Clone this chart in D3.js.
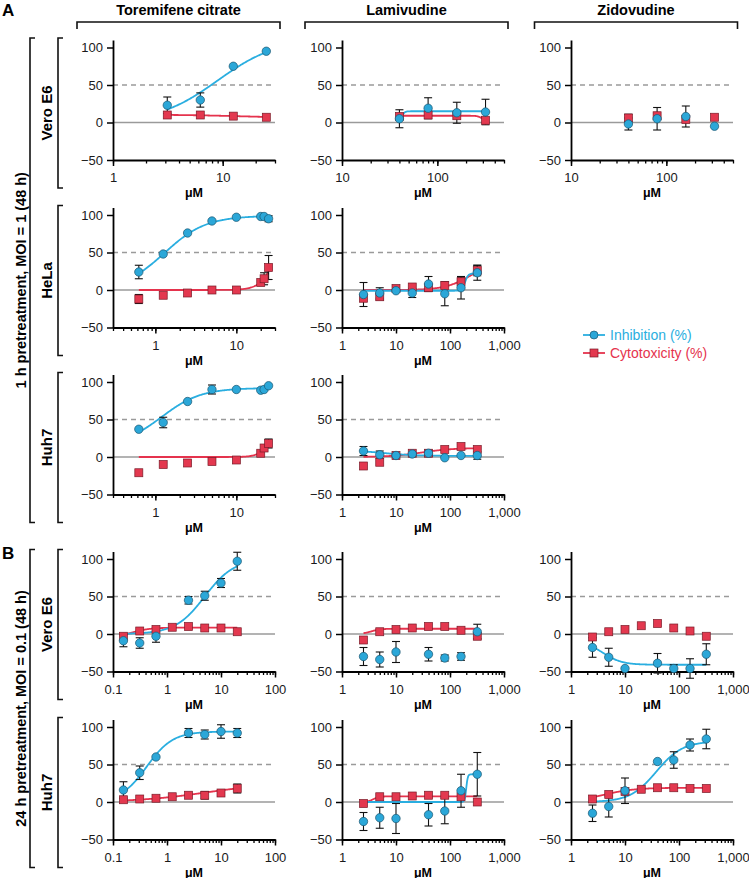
<!DOCTYPE html>
<html><head><meta charset="utf-8">
<script src="https://cdn.jsdelivr.net/npm/d3@7"></script>
<style>
body{margin:0;background:#fff;}
text{font-family:Arial,"Liberation Sans",Helvetica,sans-serif;}
</style>
</head><body><svg id="c" width="749" height="878"></svg>
<script>
// ================= DATA =================
const drugs = ["Toremifene citrate", "Lamivudine", "Zidovudine"];
const cellLines = ["Vero E6", "HeLa", "Huh7", "Vero E6", "Huh7"];
const sectionLetters = ["A", "B"];
const sectionLabels = ["1 h pretreatment, MOI = 1 (48 h)", "24 h pretreatment, MOI = 0.1 (48 h)"];
const legendLabels = ["Inhibition (%)", "Cytotoxicity (%)"];
const yTicks = [-50, 0, 50, 100];
const xUnit = "\u03bcM";

// concentrations (µM)
const concTorA1 = [3.125, 6.25, 12.5, 25];
const concNucA1 = [40, 80, 160, 320];
const concTorA = [0.625, 1.25, 2.5, 5, 10, 20, 22, 25];
const concNuc = [2.5, 5, 10, 20, 40, 80, 160, 320];
const concTorB = [0.156, 0.3125, 0.625, 1.25, 2.5, 5, 10, 20];

// --- A, Vero E6 ---
const inhA1Tor = [23, 30, 75, 95];
const inhErrA1Tor = [11, 9.5, 0, 0];
const cytA1Tor = [10, 10, 8.5, 7];
const cytErrA1Tor = [0, 0, 0, 0];
const fitInhA1Tor = [0, 112, 9, 1.6];   // [low, high, EC50, hill]
const fitCytA1Tor = [10.5, 6, 15, 1.5];

const inhA1Lam = [5, 19, 13, 14];
const inhErrA1Lam = [12, 14, 14, 17];
const cytA1Lam = [8, 10, 9, 3];
const cytErrA1Lam = [0, 0, 0, 0];
const fitInhA1Lam = [5, 15, 43, 30];
const fitCytA1Lam = [9, 3, 290, 20];

const inhA1Zid = [-2, 5, 8, -5];
const inhErrA1Zid = [8, 15, 14, 0];
const cytA1Zid = [6, 9, 4, 7];
const cytErrA1Zid = [5, 0, 0, 0];

// --- A, HeLa ---
const inhA2Tor = [24, 48, 76, 92, 97, 98, 98, 95];
const inhErrA2Tor = [9, 0, 0, 0, 0, 0, 0, 4];
const cytA2Tor = [-12, -7, -4, 0, 0, 10, 15, 30];
const cytErrA2Tor = [6, 0, 0, 0, 0, 0, 8, 16];
const fitInhA2Tor = [0, 99, 1.3, 1.7];
const fitCytA2Tor = [0, 100, 32, 4.5];

const inhA2Lam = [-6, -4, -1, -4, 8, -5, 3, 23];
const inhErrA2Lam = [16, 7, 0, 6, 10, 16, 15, 10];
const cytA2Lam = [-11, -9, 2, 4, 3, 6, 11, 26];
const cytErrA2Lam = [0, 4, 0, 0, 0, 0, 6, 7];
const fitInhA2Lam = [-1, 22, 190, 15];
const fitCytA2Lam = [0, 40, 250, 1.8];

// --- A, Huh7 ---
const inhA3Tor = [37, 46, 74, 90, 90, 89, 90, 95];
const inhErrA3Tor = [0, 7, 0, 6, 0, 0, 0, 0];
const cytA3Tor = [-21, -10, -8, -6, -4, 5, 12, 18];
const cytErrA3Tor = [0, 0, 0, 0, 0, 0, 0, 6];
const fitInhA3Tor = [15, 92, 1.2, 1.8];
const fitCytA3Tor = [0, 60, 28, 6];

const inhA3Lam = [8, 3, 2, 4, 5, -1, 2, 2];
const inhErrA3Lam = [6, 5, 0, 0, 4, 0, 0, 5];
const cytA3Lam = [-12, -7, 2, 5, 5, 10, 14, 10];
const cytErrA3Lam = [0, 0, 0, 0, 0, 0, 0, 0];
const fitInhA3Lam = [9, 1.5, 6, 1.5];
const fitCytA3Lam = [0, 12, 30, 1.5];

// --- B, Vero E6 ---
const inhB1Tor = [-9, -12, -3, null, 45, 51, 68, 97];
const inhErrB1Tor = [8, 7, 8, 0, 5, 6, 6, 12];
const cytB1Tor = [-3, 4, 6, 9, 10, 8, 8, 3];
const cytErrB1Tor = [0, 0, 0, 0, 0, 0, 0, 0];
const fitInhB1Tor = [0, 100, 5, 1.6];
const fitCytB1Tor = [-5, 8.5, 0.22, 2.5];

const inhB1Lam = [-30, -34, -24, null, -27, -32, -30, 3];
const inhErrB1Lam = [12, 10, 14, 0, 9, 4, 5, 10];
const cytB1Lam = [-8, 3, 6, 8, 10, 10, 5, -3];
const cytErrB1Lam = [0, 0, 0, 0, 0, 0, 0, 3];
const fitCytB1Lam = [0, 7, 3.5, 5];

const inhB1Zid = [-18, -31, -46, null, -39, -46, -46, -27];
const inhErrB1Zid = [13, 12, 0, 0, 13, 5, 13, 14];
const cytB1Zid = [-4, 3, 6, 11, 14, 8, 4, -3];
const cytErrB1Zid = [0, 0, 0, 0, 0, 0, 0, 0];
const fitInhB1Zid = [-10, -41, 4, 2.5];

// --- B, Huh7 ---
const inhB2Tor = [16, 39, 60, null, 92, 90, 94, 92];
const inhErrB2Tor = [11, 9, 0, 0, 6, 6, 9, 6];
const cytB2Tor = [3, 4, 5, 7, 9, 9, 12, 18];
const cytErrB2Tor = [0, 0, 0, 0, 0, 5, 0, 6];
const fitInhB2Tor = [0, 94, 0.42, 1.8];
const fitCytB2Tor = [0, 25, 5, 0.7];

const inhB2Lam = [-26, -21, -22, null, -17, -12, 15, 37];
const inhErrB2Lam = [12, 14, 20, 0, 15, 17, 22, 29];
const cytB2Lam = [-2, 7, 7, 8, 9, 9, 7, 0];
const cytErrB2Lam = [0, 0, 0, 0, 0, 0, 0, 0];
const fitInhB2Lam = [0, 37, 200, 30];
const fitCytB2Lam = [0, 7.5, 3.8, 8];

const inhB2Zid = [-15, -6, 15, null, 54, 56, 76, 84];
const inhErrB2Zid = [11, 14, 17, 0, 0, 11, 8, 13];
const cytB2Zid = [4, 10, 14, 17, 19, 19, 18, 18];
const cytErrB2Zid = [0, 0, 0, 0, 0, 0, 0, 0];
const fitInhB2Zid = [0, 81, 38, 1.8];
const fitCytB2Zid = [0, 19, 4, 1.5];

// x axis domains / major ticks per panel type
const domTorA1 = [1, 30], majTorA1 = [1, 10];
const domNucA1 = [10, 500], majNucA1 = [10, 100];
const domTorA = [0.3, 30], majTorA = [1, 10];
const domNuc = [1, 1000], majNuc = [1, 10, 100, 1000];
const domTorB = [0.1, 100], majTorB = [0.1, 1, 10, 100];

// ================= LAYOUT =================
const colX = [113, 342, 571];
const axisLen = 162;
const rowZero = [122.5, 290, 457, 634, 802];
const pxPerUnit = 0.75;

const panels = [
  {r:0,c:0,dom:domTorA1,maj:majTorA1,conc:concTorA1,inh:inhA1Tor,ie:inhErrA1Tor,cyt:cytA1Tor,ce:cytErrA1Tor,fi:fitInhA1Tor,fc:fitCytA1Tor},
  {r:0,c:1,dom:domNucA1,maj:majNucA1,conc:concNucA1,inh:inhA1Lam,ie:inhErrA1Lam,cyt:cytA1Lam,ce:cytErrA1Lam,fi:fitInhA1Lam,fc:fitCytA1Lam},
  {r:0,c:2,dom:domNucA1,maj:majNucA1,conc:concNucA1,inh:inhA1Zid,ie:inhErrA1Zid,cyt:cytA1Zid,ce:cytErrA1Zid,fi:null,fc:null},
  {r:1,c:0,dom:domTorA,maj:majTorA,conc:concTorA,inh:inhA2Tor,ie:inhErrA2Tor,cyt:cytA2Tor,ce:cytErrA2Tor,fi:fitInhA2Tor,fc:fitCytA2Tor},
  {r:1,c:1,dom:domNuc,maj:majNuc,conc:concNuc,inh:inhA2Lam,ie:inhErrA2Lam,cyt:cytA2Lam,ce:cytErrA2Lam,fi:fitInhA2Lam,fc:fitCytA2Lam},
  {r:2,c:0,dom:domTorA,maj:majTorA,conc:concTorA,inh:inhA3Tor,ie:inhErrA3Tor,cyt:cytA3Tor,ce:cytErrA3Tor,fi:fitInhA3Tor,fc:fitCytA3Tor},
  {r:2,c:1,dom:domNuc,maj:majNuc,conc:concNuc,inh:inhA3Lam,ie:inhErrA3Lam,cyt:cytA3Lam,ce:cytErrA3Lam,fi:fitInhA3Lam,fc:fitCytA3Lam},
  {r:3,c:0,dom:domTorB,maj:majTorB,conc:concTorB,inh:inhB1Tor,ie:inhErrB1Tor,cyt:cytB1Tor,ce:cytErrB1Tor,fi:fitInhB1Tor,fc:fitCytB1Tor},
  {r:3,c:1,dom:domNuc,maj:majNuc,conc:concNuc,inh:inhB1Lam,ie:inhErrB1Lam,cyt:cytB1Lam,ce:cytErrB1Lam,fi:null,fc:fitCytB1Lam},
  {r:3,c:2,dom:domNuc,maj:majNuc,conc:concNuc,inh:inhB1Zid,ie:inhErrB1Zid,cyt:cytB1Zid,ce:cytErrB1Zid,fi:fitInhB1Zid,fc:null},
  {r:4,c:0,dom:domTorB,maj:majTorB,conc:concTorB,inh:inhB2Tor,ie:inhErrB2Tor,cyt:cytB2Tor,ce:cytErrB2Tor,fi:fitInhB2Tor,fc:fitCytB2Tor},
  {r:4,c:1,dom:domNuc,maj:majNuc,conc:concNuc,inh:inhB2Lam,ie:inhErrB2Lam,cyt:cytB2Lam,ce:cytErrB2Lam,fi:fitInhB2Lam,fc:fitCytB2Lam},
  {r:4,c:2,dom:domNuc,maj:majNuc,conc:concNuc,inh:inhB2Zid,ie:inhErrB2Zid,cyt:cytB2Zid,ce:cytErrB2Zid,fi:fitInhB2Zid,fc:fitCytB2Zid}
];

const BLUE = "#2aaee0", BLUE_FILL = "#2ba7d8", BLUE_STROKE = "#1b5670";
const RED = "#e5334d", RED_FILL = "#e3384f", RED_STROKE = "#7a1b28";
const GRAY = "#9a9a9a";

const svg = d3.select("#c");

function fourPL(p, x) { return p[0] + (p[1] - p[0]) / (1 + Math.pow(p[2] / x, p[3])); }

function minorTicks(dom) {
  const out = [];
  let e0 = Math.floor(Math.log10(dom[0])), e1 = Math.ceil(Math.log10(dom[1]));
  for (let e = e0; e <= e1; e++) for (let k = 1; k <= 9; k++) {
    const v = +(k * Math.pow(10, e)).toPrecision(6);
    if (v >= dom[0] * 0.999 && v <= dom[1] * 1.001) out.push(v);
  }
  return out;
}
const fmtTick = v => v >= 1000 ? d3.format(",")(v) : String(v);

panels.forEach(p => {
  const x0 = colX[p.c], z = rowZero[p.r];
  const x = d3.scaleLog().domain(p.dom).range([x0, x0 + axisLen]);
  const y = d3.scaleLinear().domain([-50, 110]).range([z + 50 * pxPerUnit, z - 110 * pxPerUnit]);
  const g = svg.append("g");

  // reference lines
  g.append("line").attr("x1", x0).attr("x2", x0 + axisLen).attr("y1", y(0)).attr("y2", y(0))
    .attr("stroke", GRAY).attr("stroke-width", 1.6);
  g.append("line").attr("x1", x0).attr("x2", x0 + axisLen).attr("y1", y(50)).attr("y2", y(50))
    .attr("stroke", GRAY).attr("stroke-width", 1.4).attr("stroke-dasharray", "5,4");

  // axes
  const ax = g.append("g").attr("transform", `translate(0,${y(-50)})`)
    .call(d3.axisBottom(x).tickValues(minorTicks(p.dom)).tickSize(3.5).tickSizeOuter(0).tickFormat(""));
  ax.select(".domain").attr("stroke-width", 1.8);
  ax.selectAll(".tick line").attr("stroke-width", 1.3);
  const axM = g.append("g").attr("transform", `translate(0,${y(-50)})`)
    .call(d3.axisBottom(x).tickValues(p.maj).tickSize(6).tickSizeOuter(0).tickPadding(7).tickFormat(fmtTick));
  axM.select(".domain").remove();
  axM.selectAll(".tick line").attr("stroke-width", 1.5);
  axM.selectAll("text").attr("font-size", 13).attr("fill", "#1a1a1a").attr("font-family", "Arial, Liberation Sans, sans-serif");

  const ay = g.append("g").attr("transform", `translate(${x0},0)`)
    .call(d3.axisLeft(y).tickValues(yTicks).tickSize(6).tickSizeOuter(0).tickPadding(4));
  ay.select(".domain").attr("stroke-width", 1.8);
  ay.selectAll(".tick line").attr("stroke-width", 1.5);
  ay.selectAll("text").attr("font-size", 13).attr("fill", "#1a1a1a").attr("font-family", "Arial, Liberation Sans, sans-serif");

  g.append("text").attr("x", x0 + axisLen / 2).attr("y", y(-50) + 37).attr("text-anchor", "middle")
    .attr("font-size", 12.5).attr("font-weight", "bold").text(xUnit);

  // curves
  const xs = d3.range(0, 201).map(i => Math.exp(Math.log(p.conc[0]) + i / 200 * (Math.log(p.conc[p.conc.length - 1]) - Math.log(p.conc[0]))));
  const line = d3.line().x(d => x(d[0])).y(d => y(d[1]));
  if (p.fc) g.append("path").attr("d", line(xs.map(v => [v, fourPL(p.fc, v)])))
    .attr("fill", "none").attr("stroke", RED).attr("stroke-width", 1.8);
  if (p.fi) g.append("path").attr("d", line(xs.map(v => [v, fourPL(p.fi, v)])))
    .attr("fill", "none").attr("stroke", BLUE).attr("stroke-width", 1.8);

  // error bars
  const eb = (vals, errs) => p.conc.forEach((c, i) => {
    if (vals[i] == null || !errs[i]) return;
    const cx = x(c), t = y(vals[i] + errs[i]), b = y(vals[i] - errs[i]);
    g.append("line").attr("x1", cx).attr("x2", cx).attr("y1", t).attr("y2", b).attr("stroke", "#111").attr("stroke-width", 1.1);
    [t, b].forEach(yy => g.append("line").attr("x1", cx - 4).attr("x2", cx + 4).attr("y1", yy).attr("y2", yy).attr("stroke", "#111").attr("stroke-width", 1.1));
  });
  eb(p.cyt, p.ce);
  eb(p.inh, p.ie);

  // markers
  p.conc.forEach((c, i) => {
    if (p.cyt[i] == null) return;
    g.append("rect").attr("x", x(c) - 4).attr("y", y(p.cyt[i]) - 4).attr("width", 8).attr("height", 8)
      .attr("fill", RED_FILL).attr("stroke", RED_STROKE).attr("stroke-width", 0.7);
  });
  p.conc.forEach((c, i) => {
    if (p.inh[i] == null) return;
    g.append("circle").attr("cx", x(c)).attr("cy", y(p.inh[i])).attr("r", 4.2)
      .attr("fill", BLUE_FILL).attr("stroke", BLUE_STROKE).attr("stroke-width", 0.7);
  });
});

// column titles & brackets
const colCenters = [178.5, 406.5, 636];
drugs.forEach((d, i) => {
  svg.append("text").attr("x", colCenters[i]).attr("y", 15).attr("text-anchor", "middle")
    .attr("font-size", 14.5).attr("font-weight", "bold").text(d);
  const l = colCenters[i] - 101.5, r = colCenters[i] + 101.5;
  svg.append("path").attr("d", `M${l},29V22H${r}V29`).attr("fill", "none").attr("stroke", "#111").attr("stroke-width", 1.6);
});

// row brackets & labels
cellLines.forEach((name, r) => {
  const t = rowZero[r] - 84.5, b = rowZero[r] + 65.5;
  svg.append("path").attr("d", `M63,${t}H58V${b}H63`).attr("fill", "none").attr("stroke", "#111").attr("stroke-width", 1.6);
  svg.append("text").attr("transform", `translate(52,${(t + b) / 2}) rotate(-90)`).attr("text-anchor", "middle")
    .attr("font-size", 15).attr("font-weight", "bold").text(name);
});
const secSpan = [[rowZero[0] - 84.5, rowZero[2] + 65.5], [rowZero[3] - 84.5, rowZero[4] + 65.5]];
sectionLabels.forEach((s, i) => {
  const [t, b] = secSpan[i];
  svg.append("path").attr("d", `M35,${t}H30V${b}H35`).attr("fill", "none").attr("stroke", "#111").attr("stroke-width", 1.6);
  svg.append("text").attr("transform", `translate(26,${(t + b) / 2}) rotate(-90)`).attr("text-anchor", "middle")
    .attr("font-size", 14.5).attr("font-weight", "bold").text(s);
  svg.append("text").attr("x", 2).attr("y", i === 0 ? 16 : 559).attr("font-size", 17).attr("font-weight", "bold").text(sectionLetters[i]);
});

// legend
const legY = [335, 353];
legendLabels.forEach((lab, i) => {
  const col = i === 0 ? BLUE : RED;
  svg.append("line").attr("x1", 583).attr("x2", 605).attr("y1", legY[i]).attr("y2", legY[i]).attr("stroke", col).attr("stroke-width", 1.8);
  if (i === 0) svg.append("circle").attr("cx", 594).attr("cy", legY[i]).attr("r", 4).attr("fill", BLUE_FILL).attr("stroke", BLUE_STROKE).attr("stroke-width", 0.7);
  else svg.append("rect").attr("x", 590).attr("y", legY[i] - 4).attr("width", 8).attr("height", 8).attr("fill", RED_FILL).attr("stroke", RED_STROKE).attr("stroke-width", 0.7);
  svg.append("text").attr("x", 610).attr("y", legY[i] + 5).attr("font-size", 14).attr("fill", col).text(lab);
});
</script>
</body></html>
